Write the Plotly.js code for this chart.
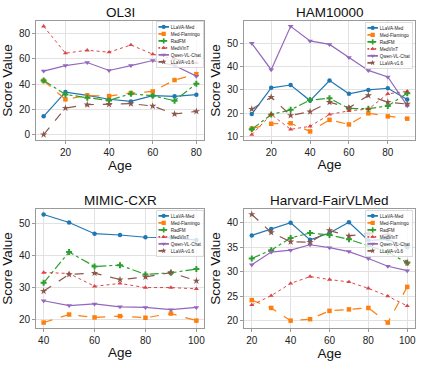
<!DOCTYPE html>
<html>
<head>
<meta charset="utf-8">
<script src="https://cdn.plot.ly/plotly-3.0.1.min.js"></script>
<style>
  html, body { margin: 0; padding: 0; background: white; }
  #chart { width: 423px; height: 370px; }
</style>
</head>
<body>
<div id="chart"></div>
<script>
// Model names and styles
const models = ['LLaVA-Med', 'Med-Flamingo', 'RadFM', 'MedVInT', 'Qwen-VL-Chat', 'LLaVA-v1.6'];
const colors = ['#1f77b4', '#ff7f0e', '#2ca02c', '#d62728', '#9467bd', '#8c564b'];
const dashes = ['solid', 'dash', 'dashdot', 'dot', 'solid', 'dash'];
const symbols = ['circle', 'square', 'cross', 'triangle-up', 'triangle-down', 'star'];
const sizes = [4.5, 4.5, 5, 4.5, 5, 5.5];

// OL3I
const olAges = [10, 20, 30, 40, 50, 60, 70, 80];
const olLlavaMed = [14.5, 33.7, 31.0, 28.0, 26.3, 30.8, 30.3, 31.6];
const olFlamingo = [42.6, 27.9, 31.0, 30.5, 32.9, 34.2, 43.2, 47.9];
const olRadfm = [42.9, 31.8, 29.2, 27.1, 32.4, 30.8, 26.8, 40.3];
const olMedvint = [85.8, 64.5, 66.8, 65.3, 71.0, 63.7, 60.0, 56.8];
const olQwen = [50.3, 54.7, 57.1, 50.8, 54.7, 58.7, 54.7, 46.3];
const olLlava16 = [0.0, 21.0, 23.7, 24.0, 24.5, 22.6, 16.3, 18.4];

// HAM10000
const hamAges = [10, 20, 30, 40, 50, 60, 70, 80, 90];
const hamLlavaMed = [19.6, 30.9, 32.1, 25.4, 34.0, 28.3, 30.0, 30.7, 25.9];
const hamFlamingo = [13.3, 15.4, 15.6, 12.1, 17.1, 15.1, 19.9, 18.6, 17.6];
const hamRadfm = [13.0, 19.4, 21.4, 25.6, 26.4, 22.0, 21.9, 23.1, 28.6];
const hamMedvint = [10.7, 19.4, 13.0, 14.3, 19.4, 21.0, 21.7, 28.3, 29.4];
const hamQwen = [50.1, 38.7, 57.4, 51.1, 49.6, 44.0, 38.4, 35.6, 23.2];
const hamLlava16 = [21.7, 26.9, 19.0, 20.6, 24.7, 22.3, 27.6, 24.7, 23.9];

// MIMIC-CXR
const mimicAges = [40, 50, 60, 70, 80, 90, 100];
const mimicLlavaMed = [52.7, 50.2, 46.7, 46.3, 45.6, 45.5, 44.7];
const mimicFlamingo = [19.0, 21.5, 20.6, 21.0, 20.5, 21.8, 19.6];
const mimicRadfm = [31.4, 41.0, 36.5, 36.9, 34.0, 34.5, 35.7];
const mimicMedvint = [34.6, 34.3, 30.3, 31.2, 29.9, 29.9, 29.5];
const mimicQwen = [25.8, 24.3, 24.8, 23.9, 23.7, 23.0, 23.7];
const mimicLlava16 = [28.8, 34.0, 34.4, 32.4, 33.2, 34.6, 32.0];

// Harvard-FairVLMed
const harvAges = [20, 30, 40, 50, 60, 70, 80, 90, 100];
const harvLlavaMed = [37.4, 38.7, 40.0, 36.5, 37.9, 40.1, 36.4, 36.6, 35.0];
const harvFlamingo = [24.2, 22.6, 20.0, 20.3, 22.0, 22.3, 22.6, 19.6, 26.9];
const harvRadfm = [32.7, 34.4, 36.9, 37.9, 37.5, 36.6, 35.3, 34.0, 31.8];
const harvMedvint = [23.2, 25.1, 27.6, 29.0, 28.4, 27.9, 26.6, 25.0, 23.0];
const harvQwen = [31.4, 34.0, 34.4, 35.5, 34.9, 34.1, 32.7, 31.1, 30.2];
const harvLlava16 = [41.7, 38.0, 36.1, 36.0, 38.4, 37.3, 37.8, 37.5, 31.8];

const W = 423, H = 370;

const panels = [
    { title: 'OL3I', ages: olAges,
      series: [olLlavaMed, olFlamingo, olRadfm, olMedvint, olQwen, olLlava16],
      box: [36, 204, 21, 140], xrange: [6.5, 83.5], yrange: [-4.3, 90], xdtick: 20, ydtick: 20, legendAt: [156, 21] },
    { title: 'HAM10000', ages: hamAges,
      series: [hamLlavaMed, hamFlamingo, hamRadfm, hamMedvint, hamQwen, hamLlava16],
      box: [244, 415, 21, 140], xrange: [6, 94], yrange: [8.4, 59.7], xdtick: 20, ydtick: 10, legendAt: [365, 22] },
    { title: 'MIMIC-CXR', ages: mimicAges,
      series: [mimicLlavaMed, mimicFlamingo, mimicRadfm, mimicMedvint, mimicQwen, mimicLlava16],
      box: [36, 204, 209, 328], xrange: [37, 103], yrange: [17.3, 54.4], xdtick: 20, ydtick: 10, legendAt: [156, 210] },
    { title: 'Harvard-FairVLMed', ages: harvAges,
      series: [harvLlavaMed, harvFlamingo, harvRadfm, harvMedvint, harvQwen, harvLlava16],
      box: [244, 415, 209, 328], xrange: [16, 104], yrange: [18.5, 42.8], xdtick: 20, ydtick: 5, legendAt: [365, 210] }
];

const axisFont = { family: 'Liberation Sans, Arial, sans-serif', size: 10, color: '#222' };
const titleFont = { family: 'Liberation Sans, Arial, sans-serif', size: 13.5, color: '#111' };

const traces = [];
const layout = {
    width: W, height: H,
    margin: { l: 0, r: 0, t: 0, b: 0, autoexpand: false },
    paper_bgcolor: 'white',
    plot_bgcolor: 'white',
    font: axisFont,
    annotations: []
};

panels.forEach((p, i) => {
    const n = i === 0 ? '' : String(i + 1);
    const legendId = 'legend' + n;

    p.series.forEach((vals, k) => {
        traces.push({
            x: p.ages,
            y: vals,
            name: models[k],
            type: 'scatter',
            mode: 'lines+markers',
            xaxis: 'x' + n,
            yaxis: 'y' + n,
            legend: legendId,
            line: { color: colors[k], width: k === 3 ? 1 : 1.2, dash: dashes[k] },
            opacity: k === 3 ? 0.85 : 1,
            marker: { symbol: symbols[k], size: sizes[k], color: colors[k] }
        });
    });

    const [x0, x1, y0, y1] = p.box;
    const axBase = {
        showgrid: true,
        gridcolor: '#e2e2e2',
        gridwidth: 1,
        showline: true,
        linecolor: '#9a9a9a',
        linewidth: 1,
        mirror: true,
        ticks: 'outside',
        ticklen: 3,
        tickcolor: '#9a9a9a',
        zeroline: false,
        tickfont: axisFont
    };
    layout['xaxis' + n] = Object.assign({}, axBase, {
        domain: [x0 / W, x1 / W],
        anchor: 'y' + n,
        range: p.xrange,
        dtick: p.xdtick,
        tick0: 0,
        title: { text: 'Age', font: titleFont, standoff: 2 }
    });
    layout['yaxis' + n] = Object.assign({}, axBase, {
        domain: [1 - y1 / H, 1 - y0 / H],
        anchor: 'x' + n,
        range: p.yrange,
        dtick: p.ydtick,
        tick0: 0,
        title: { text: 'Score Value', font: titleFont, standoff: 3 }
    });
    layout[legendId] = {
        x: p.legendAt[0] / W,
        y: 1 - p.legendAt[1] / H,
        xanchor: 'left',
        yanchor: 'top',
        bgcolor: 'rgba(255,255,255,0.8)',
        bordercolor: '#cccccc',
        borderwidth: 2,
        itemsizing: 'constant',
        tracegroupgap: 0,
        font: { family: 'Liberation Sans, Arial, sans-serif', size: 13, color: '#222' }
    };
    layout.annotations.push({
        text: p.title,
        xref: 'paper', yref: 'paper',
        x: (x0 + x1) / 2 / W,
        y: 1 - (y0 - 9) / H,
        xanchor: 'center', yanchor: 'middle',
        showarrow: false,
        font: titleFont
    });
});

Plotly.newPlot('chart', traces, layout, { displayModeBar: false, staticPlot: true }).then(gd => {
    // matplotlib legends are tiny; shrink plotly's legend boxes to match
    gd.querySelectorAll('.infolayer > g').forEach(g => {
        const cls = g.getAttribute('class') || '';
        if (cls.indexOf('legend') === 0) {
            const t = g.getAttribute('transform') || '';
            g.setAttribute('transform', t + ' scale(0.35)');
        }
    });
});
</script>
</body>
</html>
